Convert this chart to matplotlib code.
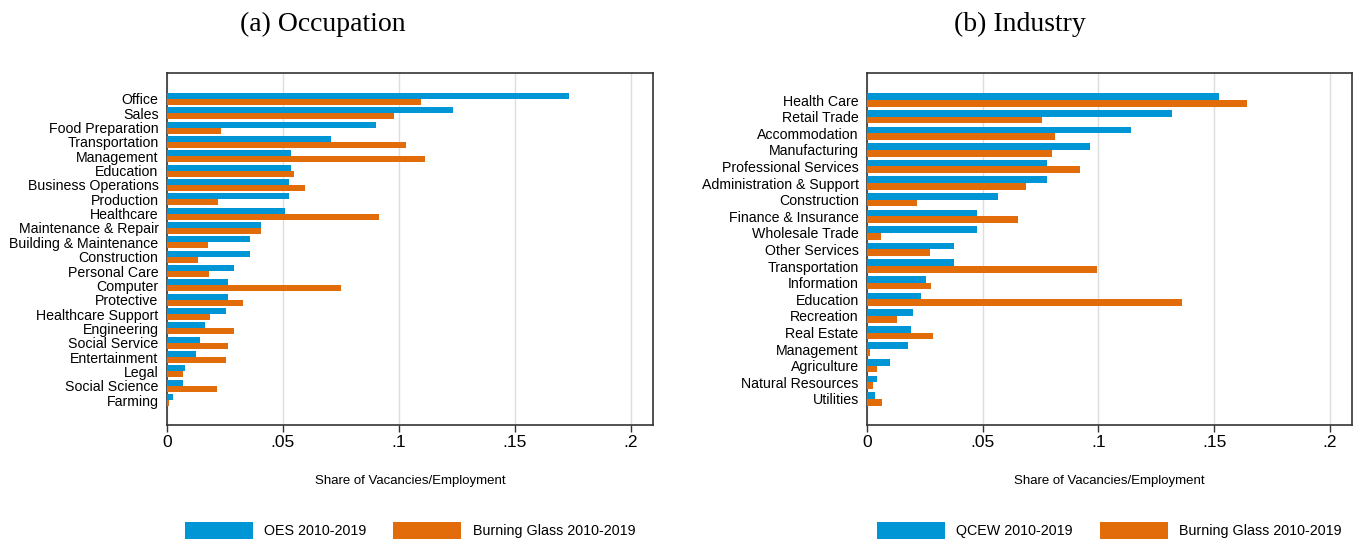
import matplotlib.pyplot as plt
import numpy as np

occ_labels = ["Office", "Sales", "Food Preparation", "Transportation", "Management",
              "Education", "Business Operations", "Production", "Healthcare",
              "Maintenance & Repair", "Building & Maintenance", "Construction",
              "Personal Care", "Computer", "Protective", "Healthcare Support",
              "Engineering", "Social Service", "Entertainment", "Legal",
              "Social Science", "Farming"]
occ_oes = [0.1733, 0.1235, 0.0901, 0.0708, 0.0536, 0.0536, 0.0527, 0.0527, 0.0509,
           0.0406, 0.0356, 0.0356, 0.0291, 0.0265, 0.0262, 0.0256, 0.0162, 0.0141,
           0.0125, 0.0078, 0.0069, 0.0025]
occ_bg = [0.1094, 0.0977, 0.0235, 0.1032, 0.1114, 0.0549, 0.0596, 0.0222, 0.0913,
          0.0406, 0.0175, 0.0135, 0.0181, 0.0751, 0.0330, 0.0184, 0.0287, 0.0265,
          0.0253, 0.0069, 0.0215, 0.0011]

ind_labels = ["Health Care", "Retail Trade", "Accommodation", "Manufacturing",
              "Professional Services", "Administration & Support", "Construction",
              "Finance & Insurance", "Wholesale Trade", "Other Services",
              "Transportation", "Information", "Education", "Recreation",
              "Real Estate", "Management", "Agriculture", "Natural Resources",
              "Utilities"]
ind_qcew = [0.1520, 0.1317, 0.1140, 0.0965, 0.0779, 0.0779, 0.0566, 0.0476, 0.0476,
            0.0376, 0.0376, 0.0256, 0.0234, 0.0199, 0.0192, 0.0179, 0.0100, 0.0044,
            0.0035]
ind_bg = [0.1642, 0.0756, 0.0814, 0.0801, 0.0921, 0.0688, 0.0218, 0.0653, 0.0061,
          0.0273, 0.0994, 0.0277, 0.1362, 0.0131, 0.0286, 0.0015, 0.0044, 0.0028,
          0.0066]

xticks = [0, 0.05, 0.1, 0.15, 0.2]
xticklabels = ["0", ".05", ".1", ".15", ".2"]

blue = "#0096d6"
orange = "#e36c0a"
sans = ["Liberation Sans Narrow", "Liberation Sans", "DejaVu Sans"]

fig = plt.figure(figsize=(13.54, 5.42), dpi=100)
ax1 = fig.add_axes([0.1233, 0.2159, 0.3589, 0.6494])
ax2 = fig.add_axes([0.6403, 0.2159, 0.3582, 0.6494])


def draw(ax, labels, v1, v2, name1, bh, top, bottom, fs):
    n = len(labels)
    y = np.arange(n)
    ax.barh(y - bh / 2, v1, height=bh, color=blue, label=name1, zorder=3)
    ax.barh(y + bh / 2, v2, height=bh, color=orange, label="Burning Glass 2010-2019", zorder=3)
    ax.set_ylim(n - 1 + bottom, -top)
    ax.set_yticks(y)
    ax.set_yticklabels(labels, family=sans, fontsize=fs)
    ax.tick_params(axis="y", length=0, pad=6)
    ax.set_xlim(0, 0.2095)
    ax.set_xticks(xticks)
    ax.set_xticklabels(xticklabels, family=sans, fontsize=12.5)
    ax.tick_params(axis="x", direction="out", length=5, width=1, color="#333333", pad=2)
    ax.grid(axis="x", color="#dddddd", linewidth=1, zorder=0)
    for s in ax.spines.values():
        s.set_color("#333333")
        s.set_linewidth(1.2)
    ax.set_xlabel("Share of Vacancies/Employment", family=sans, fontsize=9.5, labelpad=18)
    ax.legend(loc="center", bbox_to_anchor=(0.5, -0.30), ncol=2, frameon=False,
              prop={"family": sans, "size": 10.3}, handlelength=4.75, handleheight=1.4,
              handletextpad=0.8, columnspacing=1.9)


draw(ax1, occ_labels, occ_oes, occ_bg, "OES 2010-2019", 0.42, 1.81, 1.74, 10.2)
draw(ax2, ind_labels, ind_qcew, ind_bg, "QCEW 2010-2019", 0.40, 1.63, 1.57, 10.2)

fig.text(0.2386, 0.955, "(a) Occupation", family="Liberation Serif", fontsize=20,
         ha="center", va="center")
fig.text(0.7533, 0.955, "(b) Industry", family="Liberation Serif", fontsize=20,
         ha="center", va="center")

fig.savefig("out.png", dpi=100)
